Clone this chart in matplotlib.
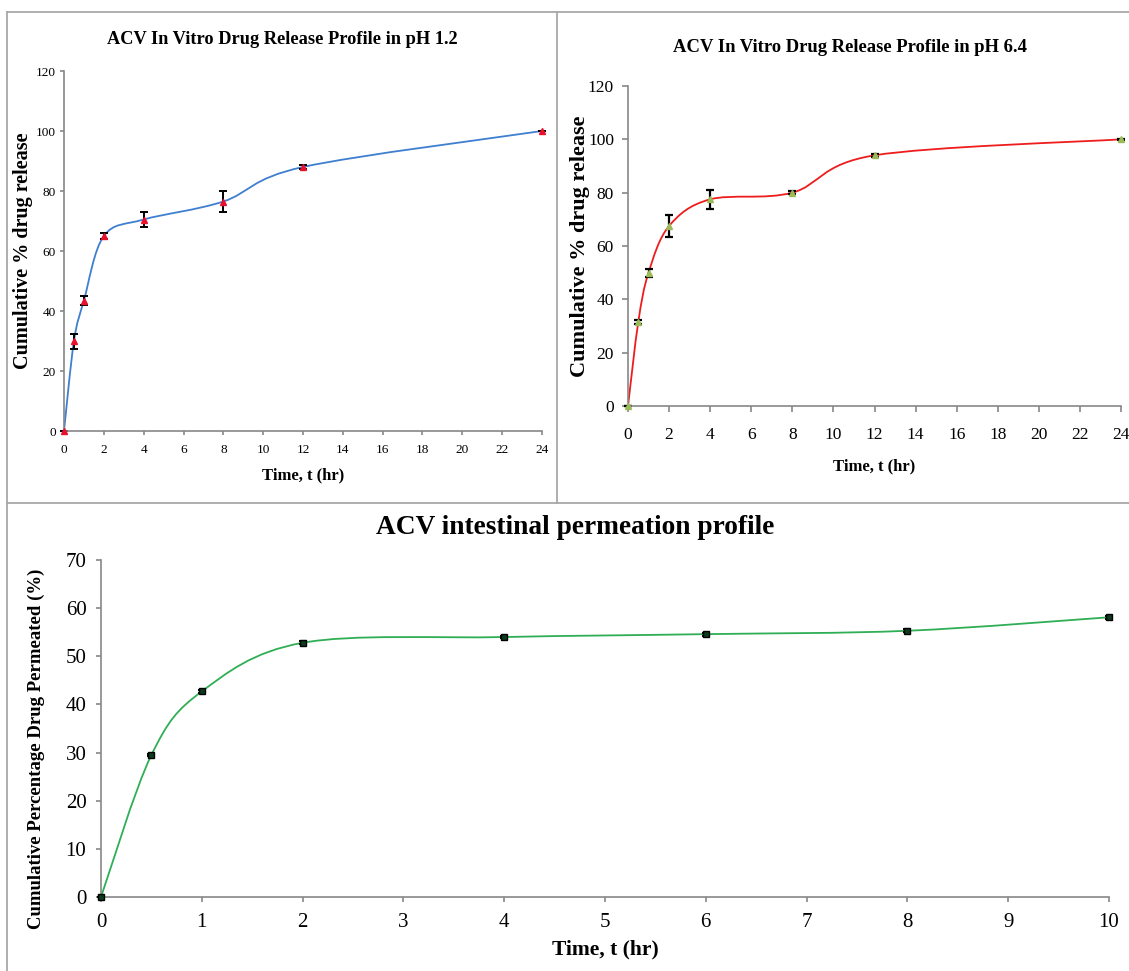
import numpy as np
import matplotlib
matplotlib.use("Agg")
import matplotlib.pyplot as plt
from matplotlib.path import Path
from matplotlib.patches import PathPatch
from matplotlib.lines import Line2D

plt.rcParams['font.family'] = ['Liberation Serif', 'DejaVu Serif']

# data
t_release = [0, 0.5, 1, 2, 4, 8, 12, 24]
ph12_release = [0, 30.0, 43.5, 65.0, 70.5, 76.5, 88.0, 100.0]
ph12_err = [0, 2.5, 1.5, 1.0, 2.5, 3.5, 0.6, 0]
ph64_release = [0, 31.5, 50.0, 67.5, 77.5, 80.0, 94.0, 100.0]
ph64_err = [0, 0.8, 1.5, 4.0, 3.5, 0.5, 0.6, 0.3]

t_perm = [0, 0.5, 1, 2, 4, 6, 8, 10]
permeated = [0, 29.5, 42.7, 52.8, 54.0, 54.6, 55.3, 58.1]
perm_err = [0, 0.3, 0.3, 0.3, 0.3, 0.3, 0.3, 0.3]

W, H = 1129, 971
GRID = '#878787'
BORDER = '#a8a8a8'


def smooth_path(x, y):
    """excel style smoothed line -> bezier path"""
    p = np.column_stack([x, y]).astype(float)
    n = len(p)
    verts = [p[0]]
    codes = [Path.MOVETO]
    for i in range(n - 1):
        p0 = p[i - 1] if i > 0 else p[i]
        p3 = p[i + 2] if i + 2 < n else p[i + 1]
        c1 = p[i] + (p[i + 1] - p0) / 6.0
        c2 = p[i + 1] - (p3 - p[i]) / 6.0
        verts += [c1, c2, p[i + 1]]
        codes += [Path.CURVE4] * 3
    return Path(verts, codes)


def px_axes(left, right, top, bottom):
    return fig.add_axes([left / W, 1 - bottom / H, (right - left) / W, (bottom - top) / H])


def style(ax, fs, tlen, ypad, xpad):
    for s in ['top', 'right']:
        ax.spines[s].set_visible(False)
    for s in ['left', 'bottom']:
        ax.spines[s].set_color(GRID)
        ax.spines[s].set_linewidth(1.2)
    ax.tick_params(direction='out', length=tlen, width=1.2, color=GRID, labelsize=fs)
    ax.tick_params(axis='y', pad=ypad)
    ax.tick_params(axis='x', pad=xpad)


fig = plt.figure(figsize=(W / 100, H / 100), dpi=100)

# panel 1 - pH 1.2
ax1 = px_axes(64, 542, 71, 431)
style(ax1, 9.5, 3, 3, 6)
ax1.add_patch(PathPatch(smooth_path(t_release, ph12_release), fill=False, color='#3f7fd0', lw=1.3))
ax1.errorbar(t_release, ph12_release, yerr=ph12_err, fmt='none', ecolor='black', elinewidth=1.4,
             capsize=3, capthick=1.4, clip_on=False)
ax1.plot(t_release, ph12_release, '^', color='#e8112d', ms=5, clip_on=False, zorder=5)
ax1.set_xlim(0, 24)
ax1.set_ylim(0, 120)
ax1.set_xticks(range(0, 25, 2))
ax1.set_yticks(range(0, 121, 20))
ax1.set_xlabel('Time, t (hr)', fontsize=12, fontweight='bold', va='center')
ax1.xaxis.set_label_coords(0.5, -0.123)
ax1.set_ylabel('Cumulative % drug release', fontsize=14.5, fontweight='bold', va='center')
ax1.yaxis.set_label_coords(-0.086, 0.5)
fig.text(282 / W, 1 - 40 / H, 'ACV In Vitro Drug Release Profile in pH 1.2', ha='center', va='center',
         fontsize=13.2, fontweight='bold')

# panel 2 - pH 6.4
ax2 = px_axes(628, 1121, 86, 406)
style(ax2, 12.5, 4.3, 5.8, 10.5)
ax2.add_patch(PathPatch(smooth_path(t_release, ph64_release), fill=False, color='#ee1c1c', lw=1.3))
ax2.errorbar(t_release, ph64_release, yerr=ph64_err, fmt='none', ecolor='black', elinewidth=1.6,
             capsize=3, capthick=1.6, clip_on=False)
ax2.plot(t_release, ph64_release, '^', color='#9bbb59', ms=5, clip_on=False, zorder=5)
ax2.set_xlim(0, 24)
ax2.set_ylim(0, 120)
ax2.set_xticks(range(0, 25, 2))
ax2.set_yticks(range(0, 121, 20))
ax2.set_xlabel('Time, t (hr)', fontsize=12, fontweight='bold', va='center')
ax2.xaxis.set_label_coords(0.5, -0.19)
ax2.set_ylabel('Cumulative % drug release', fontsize=16, fontweight='bold', va='center')
ax2.yaxis.set_label_coords(-0.098, 0.5)
fig.text(850 / W, 1 - 47 / H, 'ACV In Vitro Drug Release Profile in pH 6.4', ha='center', va='center',
         fontsize=13.4, fontweight='bold')

# panel 3 - intestinal permeation
ax3 = px_axes(101, 1109, 560, 897)
style(ax3, 15, 3.5, 7, 8)
ax3.add_patch(PathPatch(smooth_path(t_perm, permeated), fill=False, color='#2fae55', lw=1.3))
ax3.errorbar(t_perm, permeated, yerr=perm_err, fmt='none', ecolor='black', elinewidth=1.2,
             capsize=3, capthick=1.5, clip_on=False)
ax3.plot(t_perm, permeated, 's', color='#0d3b1e', mec='black', ms=4, clip_on=False, zorder=5)
ax3.set_xlim(0, 10)
ax3.set_ylim(0, 70)
ax3.set_xticks(range(0, 11))
ax3.set_yticks(range(0, 71, 10))
ax3.set_xlabel('Time, t (hr)', fontsize=15.5, fontweight='bold', va='center')
ax3.xaxis.set_label_coords(0.5, -0.155)
ax3.set_ylabel('Cumulative Percentage Drug Permeated (%)', fontsize=13.5, fontweight='bold', va='center')
ax3.yaxis.set_label_coords(-0.0645, 0.44)
fig.text(575 / W, 1 - 527 / H, 'ACV intestinal permeation profile', ha='center', va='center',
         fontsize=19.7, fontweight='bold')

# panel frames
for (x0, y0, x1, y1) in [(7, 12, 1129, 12), (7, 12, 7, 971), (557, 12, 557, 503), (7, 503, 1129, 503)]:
    fig.add_artist(Line2D([x0 / W, x1 / W], [1 - y0 / H, 1 - y1 / H], transform=fig.transFigure,
                          color=BORDER, lw=1.3))

fig.savefig('out.png', dpi=100)
